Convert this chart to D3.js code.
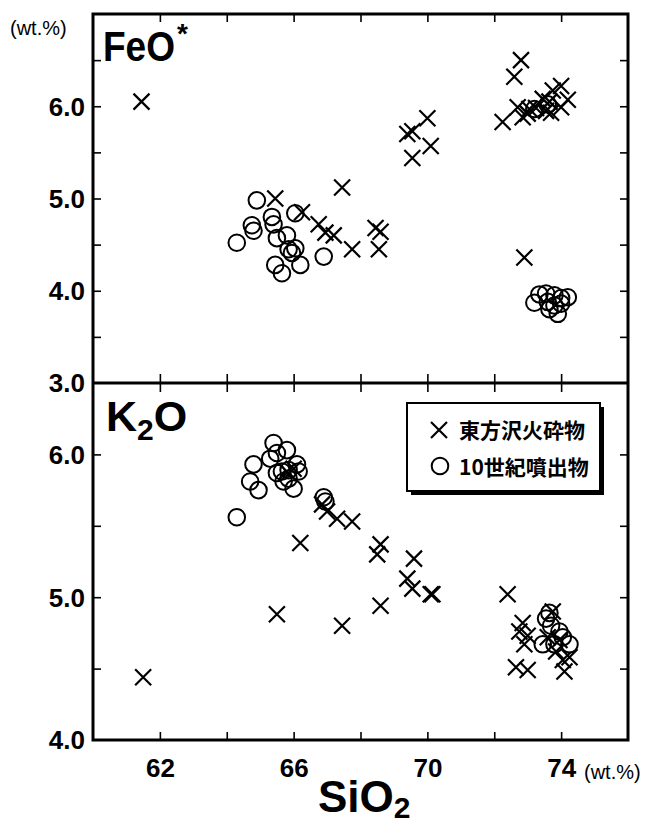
<!DOCTYPE html>
<html>
<head>
<meta charset="utf-8">
<script src="https://cdn.jsdelivr.net/npm/d3@7"></script>
<style>
  body { margin: 0; background: #fff; }
  svg text { font-family: "Liberation Sans", Arial, sans-serif; fill: #000; }
  .tick line { stroke: #000; stroke-width: 1.6; }
  .tick text { font-weight: bold; font-size: 26px; }
</style>
</head>
<body>
<svg id="chart" width="666" height="825"></svg>
<script>
// ejes
var xTicks = [62, 64, 66, 68, 70, 72, 74];
var xLabels = [62, 66, 70, 74];
var feoTicks = [3.5, 4.0, 4.5, 5.0, 5.5, 6.0, 6.5];
var feoLabels = [3.0, 4.0, 5.0, 6.0];
var k2oTicks = [4.5, 5.0, 5.5, 6.0];
var k2oLabels = [4.0, 5.0, 6.0];

// datos [SiO2, valor]
var feoTohosawa = [
  [61.45,6.05],
  [65.45,5.00],[66.25,4.85],[66.75,4.72],[66.95,4.63],[67.2,4.60],[67.45,5.12],[67.75,4.45],[68.45,4.68],[68.6,4.64],[68.55,4.45],
  [69.4,5.70],[69.55,5.73],[69.55,5.44],[70.0,5.87],[70.1,5.57],
  [72.25,5.83],[72.6,6.32],[72.8,6.50],[72.7,5.99],[72.85,5.88],[73.0,5.92],[73.05,5.97],[73.25,5.98],[73.45,6.08],[73.55,5.95],
  [73.65,6.05],[73.7,5.93],[73.75,6.17],[74.0,6.22],[74.0,5.99],[74.2,6.07],
  [72.9,4.36]
];
var feoEruption10 = [
  [64.3,4.52],[64.75,4.71],[64.8,4.65],[64.9,4.98],[65.35,4.80],[65.4,4.72],[65.5,4.57],[65.8,4.60],[66.05,4.84],[65.85,4.45],
  [66.05,4.46],[65.95,4.41],[65.45,4.28],[65.65,4.19],[66.2,4.28],[66.9,4.37],
  [73.2,5.97],[73.6,6.02],
  [73.2,3.87],[73.35,3.96],[73.55,3.97],[73.6,3.88],[73.8,3.84],[73.65,3.80],[73.9,3.75],[74.0,3.92],[74.2,3.93],[73.8,3.95],[74.0,3.86]
];
var k2oTohosawa = [
  [61.5,4.44],
  [65.5,4.88],[66.2,5.38],[66.85,5.65],[67.0,5.60],[67.3,5.55],[67.75,5.53],[67.45,4.80],[68.5,5.30],[68.6,5.37],[68.6,4.94],
  [65.8,5.88],[66.0,5.90],
  [69.6,5.27],[69.4,5.13],[69.55,5.06],[70.1,5.02],[70.15,5.02],
  [72.4,5.02],[73.75,4.90],[72.85,4.82],[72.75,4.76],[73.0,4.73],[72.9,4.67],[72.65,4.51],[73.0,4.49],[73.6,4.72],[73.95,4.70],
  [73.85,4.62],[74.05,4.56],[74.1,4.48],[74.25,4.58]
];
var k2oEruption10 = [
  [64.3,5.56],[64.8,5.93],[64.7,5.81],[64.95,5.75],[65.4,6.08],[65.3,5.97],[65.5,6.01],[65.8,6.03],[65.5,5.87],[65.65,5.88],
  [65.85,5.89],[66.1,5.93],[66.15,5.88],[65.7,5.81],[66.0,5.76],[65.85,5.83],[66.9,5.70],[66.95,5.67],
  [73.55,4.85],[73.65,4.89],[73.7,4.80],[73.45,4.67],[73.95,4.76],[74.05,4.72],[74.25,4.67],[73.8,4.67]
];
var legendNames = ["東方沢火砕物", "10世紀噴出物"];

var svg = d3.select("#chart");
// ojo: "top" es window.top, no se puede usar
var pLeft = 93, pRight = 628, pTop = 14, pMid = 383, pBottom = 740;

var x = d3.scaleLinear().domain([60, 76]).range([pLeft, pRight]);
var yFeo = d3.scaleLinear().domain([3, 7]).range([pMid, pTop]);
var yK2o = d3.scaleLinear().domain([4, 6.5]).range([pBottom, pMid]);

var crossPath = "M-8,-8L8,8M-8,8L8,-8";

function drawTicks(y, ticks, labels) {
  var g = svg.append("g");
  g.append("g").attr("transform", "translate(" + pLeft + ",0)")
    .call(d3.axisLeft(y).tickValues(ticks).tickSize(-8).tickFormat(""))
    .select(".domain").remove();
  g.append("g").attr("transform", "translate(" + pRight + ",0)")
    .call(d3.axisRight(y).tickValues(ticks).tickSize(-8).tickFormat(""))
    .select(".domain").remove();
  g.selectAll("text.ylab").data(labels).enter()
    .append("text").attr("class", "ylab")
    .attr("x", pLeft - 8).attr("y", function(d) { return y(d); })
    .attr("dy", "0.36em").attr("text-anchor", "end")
    .style("font-weight", "bold").style("font-size", "26px")
    .text(function(d) { return d.toFixed(1); });
}

function drawPoints(y, crosses, circles) {
  var g = svg.append("g");
  g.selectAll("circle").data(circles).enter().append("circle")
    .attr("cx", function(d) { return x(d[0]); })
    .attr("cy", function(d) { return y(d[1]); })
    .attr("r", 8.3).attr("fill", "none").attr("stroke", "#000").attr("stroke-width", 2);
  g.selectAll("path").data(crosses).enter().append("path")
    .attr("d", crossPath)
    .attr("transform", function(d) { return "translate(" + x(d[0]) + "," + y(d[1]) + ")"; })
    .attr("fill", "none").attr("stroke", "#000").attr("stroke-width", 2.2);
}

drawTicks(yFeo, feoTicks, feoLabels);
drawTicks(yK2o, k2oTicks, k2oLabels);

// ticks x: arriba, divisor (ambos lados) y abajo
svg.append("g").attr("transform", "translate(0," + pTop + ")")
  .call(d3.axisTop(x).tickValues(xTicks).tickSize(-8).tickFormat(""))
  .select(".domain").remove();
svg.append("g").attr("transform", "translate(0," + pMid + ")")
  .call(d3.axisTop(x).tickValues(xTicks).tickSize(9).tickFormat(""))
  .select(".domain").remove();
svg.append("g").attr("transform", "translate(0," + pMid + ")")
  .call(d3.axisBottom(x).tickValues(xTicks).tickSize(9).tickFormat(""))
  .select(".domain").remove();
var xAxis = svg.append("g").attr("transform", "translate(0," + pBottom + ")")
  .call(d3.axisBottom(x).tickValues(xTicks).tickSize(-8).tickPadding(19)
    .tickFormat(function(d) { return xLabels.indexOf(d) >= 0 ? d : ""; }));
xAxis.select(".domain").remove();

drawPoints(yFeo, feoTohosawa, feoEruption10);
drawPoints(yK2o, k2oTohosawa, k2oEruption10);

// marco
svg.append("rect").attr("x", pLeft).attr("y", pTop)
  .attr("width", pRight - pLeft).attr("height", pBottom - pTop)
  .attr("fill", "none").attr("stroke", "#000").attr("stroke-width", 3);
svg.append("line").attr("x1", pLeft).attr("x2", pRight).attr("y1", pMid).attr("y2", pMid)
  .attr("stroke", "#000").attr("stroke-width", 3);

// titulos de panel
svg.append("text").attr("x", 103).attr("y", 61)
  .style("font-weight", "bold").style("font-size", "42px")
  .attr("textLength", 72).attr("lengthAdjust", "spacingAndGlyphs").text("FeO");
svg.append("text").attr("x", 177).attr("y", 43)
  .style("font-weight", "bold").style("font-size", "28px").text("*");

var k2o = svg.append("text").attr("x", 106).attr("y", 431)
  .style("font-weight", "bold").style("font-size", "43px");
k2o.append("tspan").text("K");
k2o.append("tspan").attr("dy", 9).style("font-size", "30px").text("2");
k2o.append("tspan").attr("dy", -9).text("O");

// unidades
svg.append("text").attr("x", 10).attr("y", 35).style("font-size", "20px").text("(wt.%)");
svg.append("text").attr("x", 584).attr("y", 779).style("font-size", "20px").text("(wt.%)");

var si = svg.append("text").attr("x", 318).attr("y", 812)
  .style("font-weight", "bold").style("font-size", "44px");
si.append("tspan").text("SiO");
si.append("tspan").attr("dy", 6).style("font-size", "30px").text("2");

// leyenda con sombra
var lg = svg.append("g");
lg.append("rect").attr("x", 411).attr("y", 407).attr("width", 193).attr("height", 88).attr("fill", "#000");
lg.append("rect").attr("x", 407).attr("y", 403).attr("width", 193).attr("height", 88)
  .attr("fill", "#fff").attr("stroke", "#000").attr("stroke-width", 2);
lg.append("path").attr("d", crossPath).attr("transform", "translate(439,430)")
  .attr("fill", "none").attr("stroke", "#000").attr("stroke-width", 2.2);
lg.append("circle").attr("cx", 440).attr("cy", 466).attr("r", 8.3)
  .attr("fill", "none").attr("stroke", "#000").attr("stroke-width", 2);
lg.selectAll("text.leg").data(legendNames).enter().append("text")
  .attr("class", "leg").attr("x", 459)
  .attr("y", function(d, i) { return 438 + i * 37; })
  .style("font-family", "'Noto Sans CJK JP', sans-serif")
  .style("font-weight", "bold").style("font-size", "21px")
  .text(function(d) { return d; });
</script>
</body>
</html>
